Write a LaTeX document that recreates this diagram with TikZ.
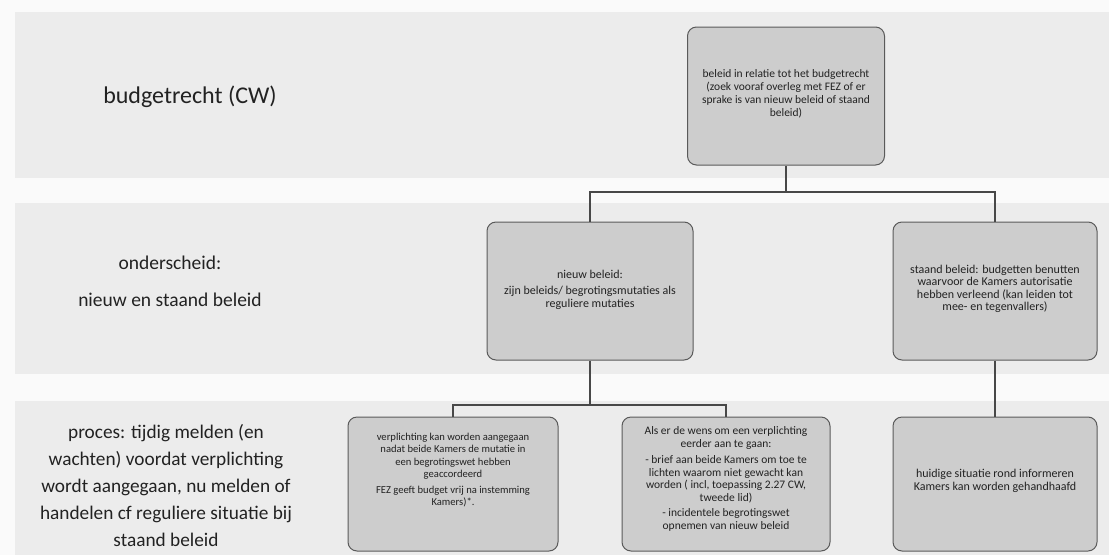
\documentclass[tikz,border=0pt]{standalone}
\usepackage{fontspec}
\setmainfont{Carlito}
\definecolor{bandgray}{HTML}{ECECEC}
\definecolor{gapgray}{HTML}{FAFAFA}
\definecolor{boxfill}{HTML}{CDCDCD}
\definecolor{boxline}{HTML}{5A5A5A}
\definecolor{txt}{HTML}{222222}
\tikzset{
  flowbox/.style={draw=boxline, fill=boxfill, line width=1pt, rounded corners=9pt, inner sep=0pt},
  boxtext/.style={align=center, inner sep=0pt, text=txt},
  conn/.style={draw=boxline!80!black, line width=1.2pt},
  sidelabel/.style={align=center, text=txt}
}
\begin{document}
\begin{tikzpicture}[x=1pt,y=-1pt]
\useasboundingbox (0,0) rectangle (1109,555);
\fill[gapgray] (0,0) rectangle (1109,555);
\fill[bandgray] (15,12) rectangle (1109,178);
\fill[bandgray] (15,203) rectangle (1109,374);
\fill[bandgray] (15,401) rectangle (1109,555);

\node[sidelabel, font=\fontsize{24}{28}\selectfont] (l1) at (190,97) {budgetrecht (CW)};
\node[sidelabel, font=\fontsize{19.5}{37}\selectfont] (l2) at (170,281) {onderscheid:\\nieuw en staand beleid};
\node[sidelabel, font=\fontsize{19.3}{27}\selectfont] (l3) at (166,486) {proces: tijdig melden (en\\wachten) voordat verplichting\\wordt aangegaan, nu melden of\\handelen cf reguliere situatie bij\\staand beleid};

% boxes
\node[flowbox, minimum width=197pt, minimum height=138pt] (top) at (786,96) {};
\node[flowbox, minimum width=206pt, minimum height=138pt] (ml) at (590,291) {};
\node[flowbox, minimum width=204pt, minimum height=138pt] (mr) at (995,291) {};
\node[flowbox, minimum width=210pt, minimum height=134pt] (bl) at (453,484) {};
\node[flowbox, minimum width=208pt, minimum height=134pt] (bm) at (726,484) {};
\node[flowbox, minimum width=204pt, minimum height=134pt] (br) at (995,484) {};

% box texts
\node[boxtext, font=\fontsize{11.5}{12.8}\selectfont] (topt) at (786,94)
  {beleid in relatie tot het budgetrecht\\(zoek vooraf overleg met FEZ of er\\sprake is van nieuw beleid of staand\\beleid)};
\node[boxtext, font=\fontsize{12}{13}\selectfont] (mlt) at (590,290)
  {nieuw beleid:\\[3pt]zijn beleids/ begrotingsmutaties als\\reguliere mutaties};
\node[boxtext, font=\fontsize{12}{12.5}\selectfont] (mrt) at (995,289)
  {staand beleid: budgetten benutten\\waarvoor de Kamers autorisatie\\hebben verleend (kan leiden tot\\mee- en tegenvallers)};
\node[boxtext, font=\fontsize{10.6}{12.4}\selectfont] (blt) at (453,470)
  {verplichting kan worden aangegaan\\nadat beide Kamers de mutatie in\\een begrotingswet hebben\\geaccordeerd\\[3pt]FEZ geeft budget vrij na instemming\\Kamers)*.};
\node[boxtext, font=\fontsize{11.5}{12.5}\selectfont] (bmt) at (726,479)
  {Als er de wens om een verplichting\\eerder aan te gaan:\\[4pt]- brief aan beide Kamers om toe te\\lichten waarom niet gewacht kan\\worden ( incl, toepassing 2.27 CW,\\tweede lid)\\[3pt]- incidentele begrotingswet\\opnemen van nieuw beleid};
\node[boxtext, font=\fontsize{12}{13}\selectfont] (brt) at (995,481)
  {huidige situatie rond informeren\\Kamers kan worden gehandhaafd};

\coordinate (bus1) at (786,192);
\coordinate (bus2) at (590,405);
\draw[conn] (top.south) -- (bus1);
\draw[conn] (bus1) -| (ml.north);
\draw[conn] (bus1) -| (mr.north);
\draw[conn] (ml.south) -- (bus2);
\draw[conn] (bus2) -| (bl.north);
\draw[conn] (bus2) -| (bm.north);
\draw[conn] (mr.south) -- (br.north);
\end{tikzpicture}
\end{document}
